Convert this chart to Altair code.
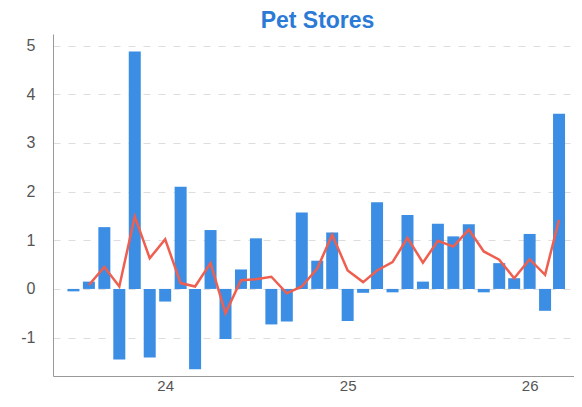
import altair as alt
import pandas as pd

months = [
    "2023-07", "2023-08", "2023-09", "2023-10", "2023-11", "2023-12",
    "2024-01", "2024-02", "2024-03", "2024-04", "2024-05", "2024-06",
    "2024-07", "2024-08", "2024-09", "2024-10", "2024-11", "2024-12",
    "2025-01", "2025-02", "2025-03", "2025-04", "2025-05", "2025-06",
    "2025-07", "2025-08", "2025-09", "2025-10", "2025-11", "2025-12",
    "2026-01", "2026-02", "2026-03",
]
changes = [
    -0.05, 0.15, 1.27, -1.45, 4.88, -1.41,
    -0.26, 2.10, -1.65, 1.21, -1.03, 0.40,
    1.04, -0.73, -0.67, 1.57, 0.58, 1.16,
    -0.66, -0.08, 1.78, -0.07, 1.52, 0.15,
    1.34, 1.08, 1.33, -0.07, 0.53, 0.22,
    1.13, -0.45, 3.60,
]
avg_months = months[1:]
avg_values = [
    0.08, 0.45, 0.05, 1.49, 0.63,
    1.02, 0.12, 0.05, 0.53, -0.50, 0.18,
    0.20, 0.25, -0.09, 0.05, 0.42, 1.11,
    0.38, 0.14, 0.38, 0.55, 1.05, 0.54,
    0.99, 0.87, 1.22, 0.77, 0.60, 0.22,
    0.61, 0.29, 1.42,
]
y_ticks = [-1, 0, 1, 2, 3, 4, 5]

bars_df = pd.DataFrame({"date": pd.to_datetime(months), "value": changes})
line_df = pd.DataFrame({"date": pd.to_datetime(avg_months), "value": avg_values})

x_scale = alt.Scale(
    domain=[alt.DateTime(year=2023, month=5, date=21),
            alt.DateTime(year=2026, month=3, date=31)],
    nice=False,
    padding=0,
)
y_scale = alt.Scale(domain=[-1.79, 5.24], nice=False, zero=False, padding=0)

x_enc = alt.X(
    "date:T",
    scale=x_scale,
    title=None,
    axis=alt.Axis(
        values=[alt.DateTime(year=2024, month=1, date=1),
                alt.DateTime(year=2025, month=1, date=1),
                alt.DateTime(year=2026, month=1, date=1)],
        format="%y",
        grid=False,
        domainColor="#999999",
        ticks=False,
        labelPadding=2,
        labelFontSize=15,
        labelColor="#555555",
        labelFont="Liberation Sans",
    ),
)
y_enc = alt.Y(
    "value:Q",
    scale=y_scale,
    title=None,
    axis=alt.Axis(
        values=y_ticks,
        labelExpr="'' + datum.value",
        grid=True,
        gridDash=[7, 8],
        gridColor="#dddddd",
        domainColor="#999999",
        ticks=False,
        labelPadding=18,
        labelFontSize=16,
        labelColor="#555555",
        labelFont="Liberation Sans",
    ),
)

bars = alt.Chart(bars_df).mark_bar(size=12, color="#3b8ee3").encode(x=x_enc, y=y_enc)
line = alt.Chart(line_df).mark_line(color="#ef5f50", strokeWidth=2.5).encode(
    x="date:T", y="value:Q"
)

chart = (
    alt.layer(bars, line)
    .properties(
        width=521,
        height=342,
        padding={"left": 45, "top": 26, "right": 0, "bottom": 18},
        autosize=alt.AutoSizeParams(type="none"),
        title=alt.Title(
            "Pet Stores",
            fontSize=23,
            font="Liberation Sans",
            fontWeight="bold",
            color="#2a7ad6",
            anchor="middle",
            offset=1,
            dx=4,
        ),
    )
    .configure_view(stroke=None)
)

chart.save("out.html", embed_options={"renderer": "svg", "actions": False})
